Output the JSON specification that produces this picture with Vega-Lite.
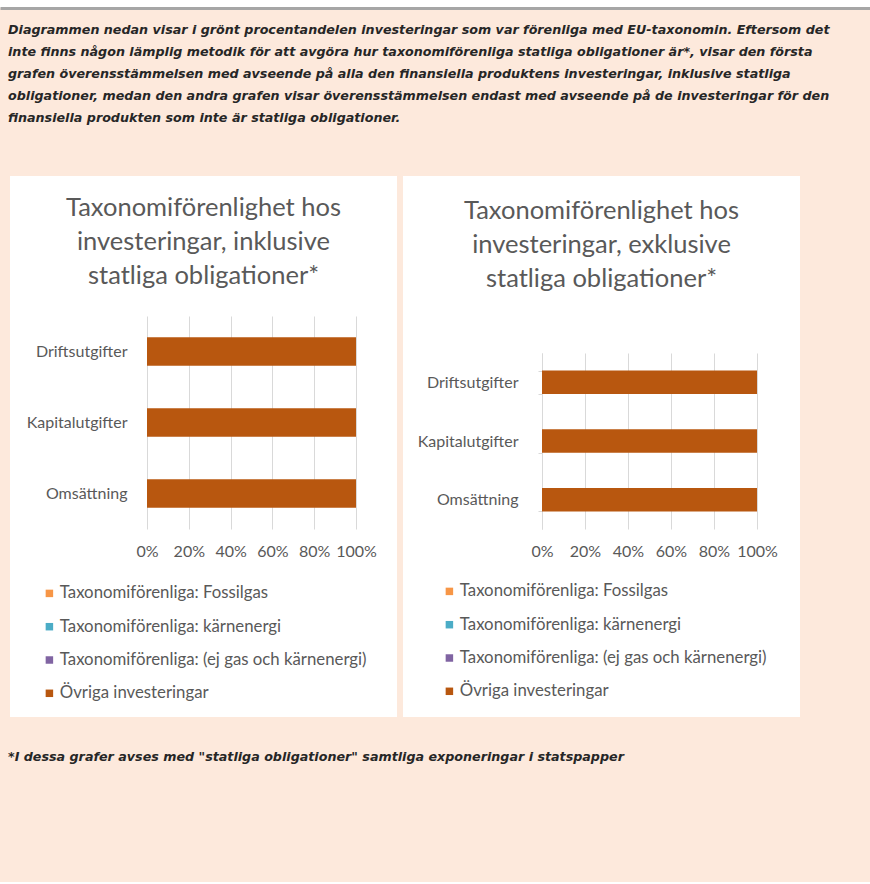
{
  "$schema": "https://vega.github.io/schema/vega-lite/v6.json",
  "background": "#fde9dc",
  "padding": {"left": 0, "top": 0, "right": 0, "bottom": 118},
  "config": {
    "view": {"stroke": null},
    "font": "Lato",
    "axis": {"labelFont": "Lato", "labelColor": "#595959", "title": null, "domain": false, "ticks": false}
  },
  "datasets": {
    "bars": [
      {"panel": "inkl", "kategori": "Driftsutgifter", "serie": "Taxonomiförenliga: Fossilgas", "andel": 0},
      {"panel": "inkl", "kategori": "Driftsutgifter", "serie": "Taxonomiförenliga: kärnenergi", "andel": 0},
      {"panel": "inkl", "kategori": "Driftsutgifter", "serie": "Taxonomiförenliga: (ej gas och kärnenergi)", "andel": 0},
      {"panel": "inkl", "kategori": "Driftsutgifter", "serie": "Övriga investeringar", "andel": 1},
      {"panel": "inkl", "kategori": "Kapitalutgifter", "serie": "Taxonomiförenliga: Fossilgas", "andel": 0},
      {"panel": "inkl", "kategori": "Kapitalutgifter", "serie": "Taxonomiförenliga: kärnenergi", "andel": 0},
      {"panel": "inkl", "kategori": "Kapitalutgifter", "serie": "Taxonomiförenliga: (ej gas och kärnenergi)", "andel": 0},
      {"panel": "inkl", "kategori": "Kapitalutgifter", "serie": "Övriga investeringar", "andel": 1},
      {"panel": "inkl", "kategori": "Omsättning", "serie": "Taxonomiförenliga: Fossilgas", "andel": 0},
      {"panel": "inkl", "kategori": "Omsättning", "serie": "Taxonomiförenliga: kärnenergi", "andel": 0},
      {"panel": "inkl", "kategori": "Omsättning", "serie": "Taxonomiförenliga: (ej gas och kärnenergi)", "andel": 0},
      {"panel": "inkl", "kategori": "Omsättning", "serie": "Övriga investeringar", "andel": 1},
      {"panel": "exkl", "kategori": "Driftsutgifter", "serie": "Taxonomiförenliga: Fossilgas", "andel": 0},
      {"panel": "exkl", "kategori": "Driftsutgifter", "serie": "Taxonomiförenliga: kärnenergi", "andel": 0},
      {"panel": "exkl", "kategori": "Driftsutgifter", "serie": "Taxonomiförenliga: (ej gas och kärnenergi)", "andel": 0},
      {"panel": "exkl", "kategori": "Driftsutgifter", "serie": "Övriga investeringar", "andel": 1},
      {"panel": "exkl", "kategori": "Kapitalutgifter", "serie": "Taxonomiförenliga: Fossilgas", "andel": 0},
      {"panel": "exkl", "kategori": "Kapitalutgifter", "serie": "Taxonomiförenliga: kärnenergi", "andel": 0},
      {"panel": "exkl", "kategori": "Kapitalutgifter", "serie": "Taxonomiförenliga: (ej gas och kärnenergi)", "andel": 0},
      {"panel": "exkl", "kategori": "Kapitalutgifter", "serie": "Övriga investeringar", "andel": 1},
      {"panel": "exkl", "kategori": "Omsättning", "serie": "Taxonomiförenliga: Fossilgas", "andel": 0},
      {"panel": "exkl", "kategori": "Omsättning", "serie": "Taxonomiförenliga: kärnenergi", "andel": 0},
      {"panel": "exkl", "kategori": "Omsättning", "serie": "Taxonomiförenliga: (ej gas och kärnenergi)", "andel": 0},
      {"panel": "exkl", "kategori": "Omsättning", "serie": "Övriga investeringar", "andel": 1}
    ]
  },
  "title": {
    "text": "*I dessa grafer avses med \"statliga obligationer\" samtliga exponeringar i statspapper",
    "orient": "bottom", "anchor": "start", "frame": "group", "offset": 34, "dx": 8,
    "font": "DejaVu Sans", "fontSize": 12.7, "fontStyle": "italic", "fontWeight": "bold", "color": "#262626"
  },
  "spacing": 16,
  "vconcat": [
    {
      "width": 870, "height": 8,
      "view": {"fill": "white"},
      "data": {"values": [{"v": 0}]},
      "mark": {"type": "point", "opacity": 0},
      "encoding": {
        "x": {"field": "v", "type": "quantitative",
          "axis": {"domain": true, "domainColor": "#a6a6a6", "domainWidth": 3, "labels": false, "ticks": false, "grid": false, "title": null}}
      }
    },
    {
      "title": {
        "text": [
          "Diagrammen nedan visar i grönt procentandelen investeringar som var förenliga med EU-taxonomin. Eftersom  det",
          "inte finns någon lämplig metodik för att avgöra hur taxonomiförenliga statliga obligationer är*, visar den första",
          "grafen överensstämmelsen  med avseende på alla den finansiella produktens investeringar, inklusive statliga",
          "obligationer, medan den andra grafen visar överensstämmelsen  endast med avseende på de investeringar för den",
          "finansiella produkten som inte är statliga obligationer."
        ],
        "anchor": "start", "frame": "group", "offset": 43, "dx": 8, "lineHeight": 22,
        "font": "DejaVu Sans", "fontSize": 12.7, "fontStyle": "italic", "fontWeight": "bold", "color": "#262626"
      },
      "spacing": 6,
      "resolve": {"scale": {"x": "independent", "y": "independent"}, "legend": {"color": "independent"}},
      "hconcat": [
        {
          "width": 4, "height": 10,
          "data": {"values": []},
          "mark": {"type": "point", "opacity": 0}
        },
        {
          "width": 387, "height": 541,
          "view": {"fill": "white", "stroke": null},
          "title": {
            "text": ["Taxonomiförenlighet hos", "investeringar, inklusive", "statliga obligationer*"],
            "anchor": "middle", "frame": "group", "offset": -113, "lineHeight": 34,
            "font": "Lato", "fontSize": 25.5, "fontWeight": 400, "color": "#595959"
          },
          "data": {"name": "bars"},
          "transform": [{"filter": "datum.panel == 'inkl'"}],
          "mark": {"type": "bar"},
          "encoding": {
            "y": {"field": "kategori", "type": "nominal",
              "sort": ["Driftsutgifter", "Kapitalutgifter", "Omsättning"],
              "scale": {"range": [140, 353], "paddingInner": 0.6, "paddingOuter": 0.3},
              "axis": {"offset": -137, "labelPadding": 20, "labelFontSize": 16}},
            "x": {"field": "andel", "type": "quantitative", "stack": "zero",
              "scale": {"domain": [0, 1], "range": [137, 346], "nice": false},
              "axis": {"orient": "top", "offset": -353, "values": [0, 0.2, 0.4, 0.6, 0.8, 1], "format": ".0%", "grid": true, "gridColor": "#d9d9d9",
                "labelFontSize": 16, "labelPadding": -22, "labelBaseline": "middle", "labelOverlap": false, "labelBound": false, "labelFlush": false}},
            "color": {"field": "serie", "type": "nominal",
              "sort": ["Taxonomiförenliga: Fossilgas", "Taxonomiförenliga: kärnenergi", "Taxonomiförenliga: (ej gas och kärnenergi)", "Övriga investeringar"],
              "scale": {"domain": ["Taxonomiförenliga: Fossilgas", "Taxonomiförenliga: kärnenergi", "Taxonomiförenliga: (ej gas och kärnenergi)", "Övriga investeringar"],
                "range": ["#f79646", "#4bacc6", "#8064a2", "#b8570f"]},
              "legend": {"orient": "none", "legendX": 31, "legendY": 409, "title": null, "padding": 0,
                "symbolType": "square", "symbolSize": 56, "symbolStrokeWidth": 0, "labelFontSize": 16.8, "labelColor": "#595959", "labelFont": "Lato", "labelLimit": 0, "rowPadding": 15.3, "labelOffset": 2}},
            "order": {"field": "serie", "sort": "ascending"}
          }
        },
        {
          "width": 397, "height": 541,
          "view": {"fill": "white", "stroke": null},
          "title": {
            "text": ["Taxonomiförenlighet hos", "investeringar, exklusive", "statliga obligationer*"],
            "anchor": "middle", "frame": "group", "offset": -124, "lineHeight": 34,
            "font": "Lato", "fontSize": 25.5, "fontWeight": 400, "color": "#595959"
          },
          "data": {"name": "bars"},
          "transform": [{"filter": "datum.panel == 'exkl'"}],
          "mark": {"type": "bar"},
          "encoding": {
            "y": {"field": "kategori", "type": "nominal",
              "sort": ["Driftsutgifter", "Kapitalutgifter", "Omsättning"],
              "scale": {"range": [177, 353], "paddingInner": 0.6, "paddingOuter": 0.3},
              "axis": {"offset": -139, "labelPadding": 20, "labelFontSize": 16, "domain": true, "domainColor": "#d9d9d9", "ticks": true, "tickColor": "#d9d9d9", "tickBand": "extent", "tickSize": 4}},
            "x": {"field": "andel", "type": "quantitative", "stack": "zero",
              "scale": {"domain": [0, 1], "range": [139, 354], "nice": false},
              "axis": {"orient": "top", "offset": -353, "values": [0, 0.2, 0.4, 0.6, 0.8, 1], "format": ".0%", "grid": true, "gridColor": "#d9d9d9",
                "labelFontSize": 16, "labelPadding": -22, "labelBaseline": "middle", "labelOverlap": false, "labelBound": false, "labelFlush": false}},
            "color": {"field": "serie", "type": "nominal",
              "sort": ["Taxonomiförenliga: Fossilgas", "Taxonomiförenliga: kärnenergi", "Taxonomiförenliga: (ej gas och kärnenergi)", "Övriga investeringar"],
              "scale": {"domain": ["Taxonomiförenliga: Fossilgas", "Taxonomiförenliga: kärnenergi", "Taxonomiförenliga: (ej gas och kärnenergi)", "Övriga investeringar"],
                "range": ["#f79646", "#4bacc6", "#8064a2", "#b8570f"]},
              "legend": {"orient": "none", "legendX": 38, "legendY": 407, "title": null, "padding": 0,
                "symbolType": "square", "symbolSize": 56, "symbolStrokeWidth": 0, "labelFontSize": 16.8, "labelColor": "#595959", "labelFont": "Lato", "labelLimit": 0, "rowPadding": 15.3, "labelOffset": 2}},
            "order": {"field": "serie", "sort": "ascending"}
          }
        }
      ]
    }
  ]
}
